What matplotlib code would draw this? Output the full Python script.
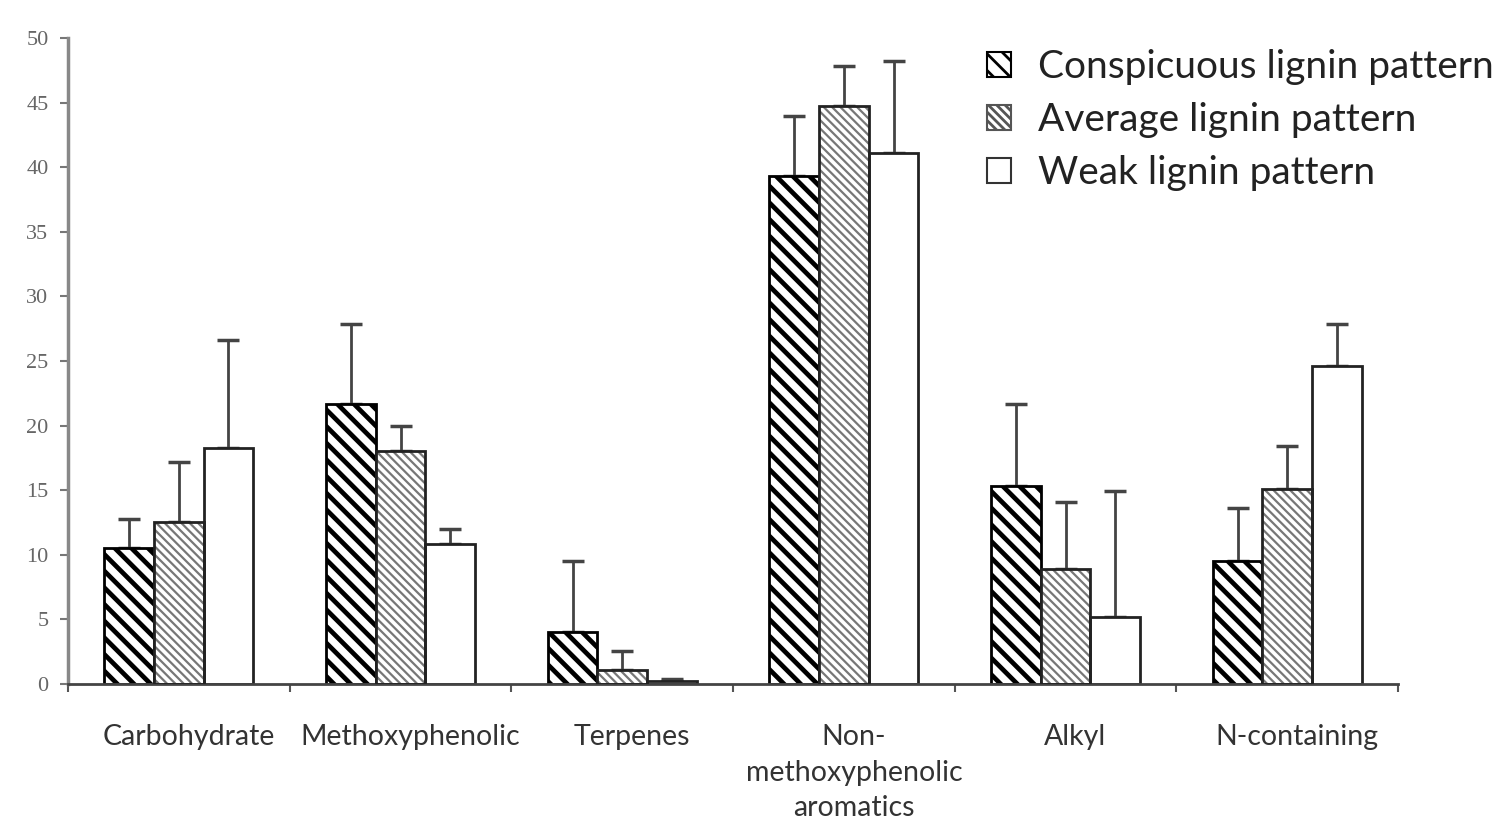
import matplotlib
matplotlib.use("Agg")
import matplotlib.pyplot as plt
import matplotlib.transforms as mtransforms
import numpy as np
from matplotlib.patches import Patch

categories = ["Carbohydrate", "Methoxyphenolic", "Terpenes",
              "Non-\nmethoxyphenolic\naromatics", "Alkyl", "N-containing"]
series_names = ["Conspicuous lignin pattern", "Average lignin pattern", "Weak lignin pattern"]
conspicuous = [10.5, 21.7, 4.0, 39.3, 15.3, 9.5]
conspicuous_err = [2.3, 6.2, 5.5, 4.7, 6.4, 4.1]
average = [12.5, 18.0, 1.1, 44.7, 8.9, 15.1]
average_err = [4.7, 2.0, 1.45, 3.1, 5.2, 3.3]
weak = [18.3, 10.8, 0.25, 41.1, 5.2, 24.6]
weak_err = [8.3, 1.2, 0.15, 7.1, 9.7, 3.3]
yticks = [0, 5, 10, 15, 20, 25, 30, 35, 40, 45, 50]

fig = plt.figure(figsize=(15.01, 8.33), dpi=100)
ax = fig.add_axes([0.0453, 0.1789, 0.8861, 0.7755])

x = np.arange(len(categories))
w = 0.224
ecol = "#444444"

def errbar(pos, vals, errs):
    ax.errorbar(pos, vals, yerr=[np.zeros(len(errs)), errs], fmt="none",
                ecolor=ecol, elinewidth=2.0, capsize=8, capthick=2.5, zorder=1)

# conspicuous
plt.rcParams["hatch.linewidth"] = 3.4
ax.bar(x - w, conspicuous, w, color="white", edgecolor="black",
       hatch="\\\\", linewidth=2.0, zorder=2)
errbar(x - w, conspicuous, conspicuous_err)

# average (gray hatch, black outline)
plt.rcParams["hatch.linewidth"] = 1.6
ax.bar(x, average, w, color="white", edgecolor="#777777",
       hatch="\\\\\\\\", linewidth=0, zorder=2)
ax.bar(x, average, w, fill=False, edgecolor="#222222", linewidth=2.0, zorder=3)
errbar(x, average, average_err)

# weak
ax.bar(x + w, weak, w, color="white", edgecolor="#222222", linewidth=2.0, zorder=2)
errbar(x + w, weak, weak_err)

ax.set_xlim(-0.5, len(categories) - 0.5)
ax.set_ylim(0, 50)
ax.set_yticks(yticks)
ax.set_yticklabels([str(t) for t in yticks], family="Liberation Serif",
                   fontsize=16, color="#666666")
ax.set_xticks(x)
ax.set_xticklabels(categories, family="Lato", fontsize=20.5, color="#333333",
                   linespacing=1.45)
ax.tick_params(axis="x", length=0, pad=29)
offset = mtransforms.ScaledTranslation(10 / 100, 0, fig.dpi_scale_trans)
for lbl in ax.get_xticklabels():
    lbl.set_transform(lbl.get_transform() + offset)
ax.set_xticks(np.arange(-0.5, len(categories)), minor=True)
ax.tick_params(axis="x", which="minor", length=6, width=1.5, color="#555555")
ax.tick_params(axis="y", length=6, width=1.5, color="#777777", pad=8)

for s in ["top", "right"]:
    ax.spines[s].set_visible(False)
ax.spines["left"].set_color("#888888")
ax.spines["left"].set_linewidth(2.5)
ax.spines["bottom"].set_color("#444444")
ax.spines["bottom"].set_linewidth(2.0)

plt.rcParams["hatch.linewidth"] = 2.0
handles = [
    Patch(facecolor="white", edgecolor="black", hatch="\\\\", linewidth=1.5),
    Patch(facecolor="white", edgecolor="#555555", hatch="\\\\\\\\", linewidth=1.5),
    Patch(facecolor="white", edgecolor="#333333", linewidth=1.5),
]
leg = ax.legend(handles, series_names, loc="upper left",
                bbox_to_anchor=(0.665, 1.037), frameon=False,
                prop={"family": "Lato", "size": 28}, handlelength=0.6,
                handleheight=0.6, handletextpad=0.7, labelspacing=0.44,
                borderpad=0.4)
for t in leg.get_texts():
    t.set_color("#222222")

fig.savefig("out.png", dpi=100)
